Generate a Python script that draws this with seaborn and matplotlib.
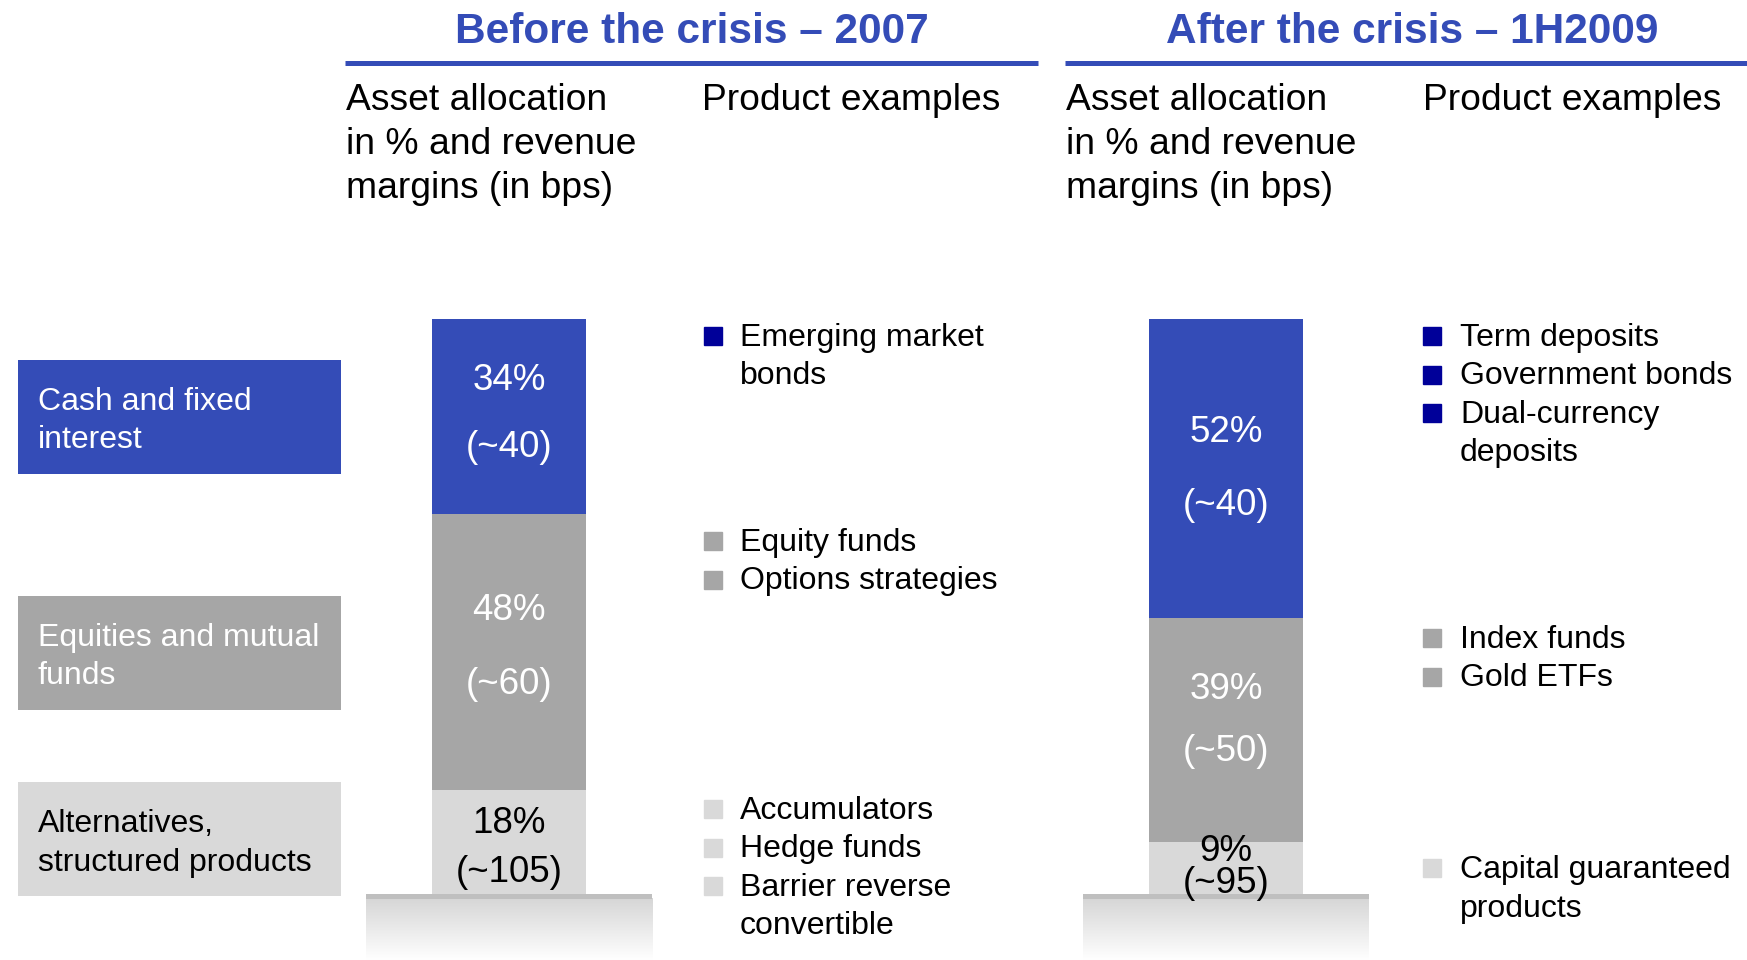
import numpy as np
import pandas as pd
import matplotlib
matplotlib.use("Agg")
import matplotlib.pyplot as plt
from matplotlib.patches import Rectangle
import seaborn as sns

# ---- data ----
segments = ["Cash and fixed interest", "Equities and mutual funds",
            "Alternatives, structured products"]
box_labels = [["Cash and fixed", "interest"],
              ["Equities and mutual", "funds"],
              ["Alternatives,", "structured products"]]
periods = ["2007", "1H2009"]
titles = ["Before the crisis \u2013 2007", "After the crisis \u2013 1H2009"]
header_left = ["Asset allocation", "in % and revenue", "margins (in bps)"]
header_right = "Product examples"

share_2007 = [34, 48, 18]
share_1h2009 = [52, 39, 9]
margin_2007 = [40, 60, 105]
margin_1h2009 = [40, 50, 95]

products_2007 = [
    [["Emerging market", "bonds"]],
    [["Equity funds"], ["Options strategies"]],
    [["Accumulators"], ["Hedge funds"], ["Barrier reverse", "convertible"]],
]
products_1h2009 = [
    [["Term deposits"], ["Government bonds"], ["Dual-currency", "deposits"]],
    [["Index funds"], ["Gold ETFs"]],
    [["Capital guaranteed", "products"]],
]

# ---- styles / layout (pixels of the 1747x960 canvas) ----
BLUE = "#344CB7"
GREY = "#A6A6A6"
LIGHT = "#D9D9D9"
NAVY = "#000099"
seg_colors = [BLUE, GREY, LIGHT]
marker_colors = [NAVY, GREY, LIGHT]
text_colors = ["white", "white", "black"]

W, H = 1747, 960
plt.rcParams["font.family"] = ["Liberation Sans", "DejaVu Sans"]

fig = plt.figure(figsize=(W / 100, H / 100), dpi=100)
ov = fig.add_axes([0, 0, 1, 1])
ov.set_xlim(0, W)
ov.set_ylim(H, 0)
ov.axis("off")

# category boxes on the left
box_tops = [360, 596, 782]
for top, lines, c, tc in zip(box_tops, box_labels, seg_colors, text_colors):
    ov.add_patch(Rectangle((18, top), 323, 113.5, color=c, lw=0))
    for k, line in enumerate(lines):
        ov.text(38, top + 50 + 38.5 * k, line, fontsize=23, color=tc, va="baseline")

# titles, underlines and column headers
title_x = [692, 1412]
rule_x = [(345, 1038), (1065, 1747)]
col_x = [346, 1066]
prod_x = [702, 1423]
for i in range(2):
    ov.text(title_x[i], 43, titles[i], fontsize=30.5, fontweight="bold", color=BLUE,
            ha="center", va="baseline")
    ov.plot(rule_x[i], [62.5, 62.5], color=BLUE, lw=3.6, solid_capstyle="butt")
    for k, line in enumerate(header_left):
        ov.text(col_x[i], 110 + 44 * k, line, fontsize=26.8, va="baseline")
    ov.text(prod_x[i], 110, header_right, fontsize=26.8, va="baseline")

# product example lists
marker_x = [713, 1432]
item_x = [740, 1460]
group_starts = [[346, 551, 819], [346, 648, 878]]
for i, prods in enumerate([products_2007, products_1h2009]):
    for g, group in enumerate(prods):
        y = group_starts[i][g]
        for item in group:
            ov.plot(marker_x[i], y - 10, marker="s", markersize=13, color=marker_colors[g],
                    linestyle="none")
            for line in item:
                ov.text(item_x[i], y, line, fontsize=23, va="baseline")
                y += 38.5

# stacked bars (one axes per period)
bar_axes_x = [366, 1083]
pct_off = [[4.65, 5.65, 1.65], [4.6, 5.4, 1.3]]
bps_off = [[-7.0, -7.3, -7.0], [-8.05, -5.4, -4.4]]
shares_all = [share_2007, share_1h2009]
margins_all = [margin_2007, margin_1h2009]

grad = np.linspace(0.84, 1.0, 100)
grad_img = np.dstack([grad, grad, grad]).reshape(100, 1, 3)

for i, period in enumerate(periods):
    ax = fig.add_axes([bar_axes_x[i] / W, 0, 286 / W, 641 / H])
    shares = np.array(shares_all[i])
    tops = np.cumsum(shares[::-1])[::-1]
    mids = tops - shares / 2
    df = pd.DataFrame({"period": period, "segment": segments, "top": tops})
    sns.barplot(data=df, x="period", y="top", hue="segment", hue_order=segments,
                palette=seg_colors, dodge=False, width=0.54, saturation=1,
                linewidth=0, errorbar=None, legend=False, ax=ax)
    # pedestal
    ax.axhspan(-0.87, 0, color="#BFBFBF", lw=0)
    ax.imshow(grad_img, extent=(-0.5, 0.5, -11.5, -0.87), aspect="auto", zorder=0)
    for s in range(3):
        ax.text(0, mids[s] + pct_off[i][s], f"{shares[s]}%", ha="center", va="baseline",
                fontsize=26.5, color=text_colors[s], zorder=6)
        ax.text(0, mids[s] + bps_off[i][s], f"(~{margins_all[i][s]})", ha="center",
                va="baseline", fontsize=26.5, color=text_colors[s], zorder=6)
    ax.set_xlim(-0.5, 0.5)
    ax.set_ylim(-11.5, 100)
    ax.set_axis_off()

fig.savefig("out.png", dpi=100)
